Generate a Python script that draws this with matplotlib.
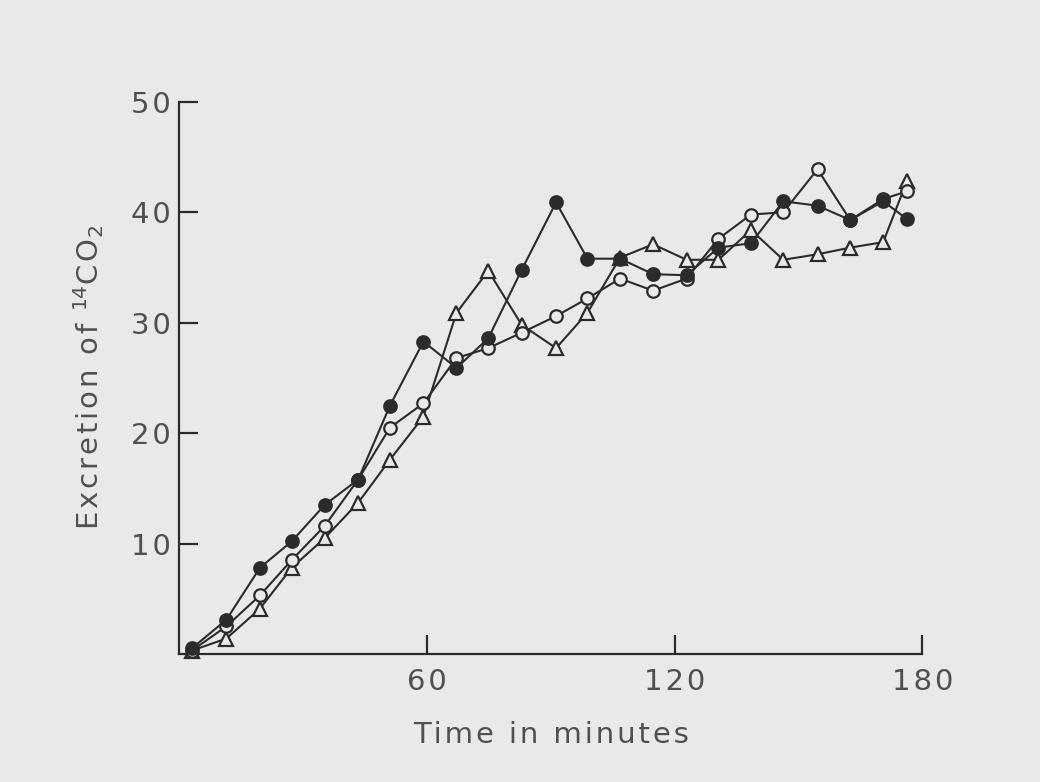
import matplotlib
matplotlib.use("Agg")
import matplotlib.pyplot as plt

# sampling times (min) and 14CO2 excretion for the three groups
t = [3.1, 11.5, 19.6, 27.3, 35.3, 43.4, 51.1, 59.2, 67.2, 74.9, 83.0, 91.3,
     98.9, 106.8, 114.8, 122.9, 130.6, 138.5, 146.3, 154.6, 162.5, 170.5, 176.2]
filled = [0.5, 3.1, 7.8, 10.2, 13.5, 15.8, 22.5, 28.3, 25.9, 28.6, 34.8, 40.9,
          35.8, 35.8, 34.4, 34.3, 36.8, 37.2, 41.0, 40.6, 39.3, 41.0, 39.4]
open_c = [0.3, 2.5, 5.3, 8.5, 11.6, 15.8, 20.5, 22.7, 26.8, 27.7, 29.1, 30.6,
          32.2, 34.0, 32.9, 34.0, 37.6, 39.8, 40.0, 43.9, 39.3, 41.2, 41.9]
tri = [0.3, 1.4, 4.1, 7.8, 10.5, 13.7, 17.6, 21.5, 30.9, 34.7, 29.8, 27.7,
       30.9, 35.9, 37.1, 35.7, 35.7, 38.4, 35.7, 36.2, 36.8, 37.3, 42.8]

x_ticks = [60, 120, 180]
y_ticks = [10, 20, 30, 40, 50]

BG = "#e9e9e9"
INK = "#2b2b2b"
TXT = "#505050"
HS = "\u200a"  # hair space, widens the lettering a little


def spaced(s):
    return HS.join(s)


plt.rcParams.update({"font.family": "DejaVu Sans", "font.size": 21})

fig = plt.figure(figsize=(10.4, 7.82), dpi=100, facecolor=BG)
ax = fig.add_axes([0.172, 0.1637, 0.715, 0.706])
ax.set_facecolor(BG)

line_kw = dict(color=INK, lw=1.5, mew=1.6, clip_on=False, zorder=3)
ax.plot(t, tri, marker="^", mfc=BG, mec=INK, ms=10, **line_kw)
ax.plot(t, open_c, marker="o", mfc=BG, mec=INK, ms=9, **line_kw)
ax.plot(t, filled, marker="o", mfc=INK, mec=INK, ms=9, **line_kw)

ax.set_xlim(0, 180)
ax.set_ylim(0, 50)
ax.set_xticks(x_ticks)
ax.set_xticklabels([spaced(str(v)) for v in x_ticks])
ax.set_yticks(y_ticks)
ax.set_yticklabels([spaced(str(v)) for v in y_ticks])
for s in ("top", "right"):
    ax.spines[s].set_visible(False)
for s in ("left", "bottom"):
    ax.spines[s].set_color(INK)
    ax.spines[s].set_linewidth(1.6)
ax.tick_params(axis="both", direction="in", length=14, width=1.6, color=INK,
               labelcolor=TXT, labelsize=21)
ax.tick_params(axis="x", pad=10)
ax.tick_params(axis="y", pad=6)

ax.set_xlabel(spaced("Time in minutes"), color=TXT, fontsize=21, labelpad=18)
ax.set_ylabel(spaced("Excretion of") + HS + " $^{14}$" + spaced("CO") + "$_2$",
              color=TXT, fontsize=21, labelpad=18)

fig.savefig("out.png", dpi=100, facecolor=BG)
